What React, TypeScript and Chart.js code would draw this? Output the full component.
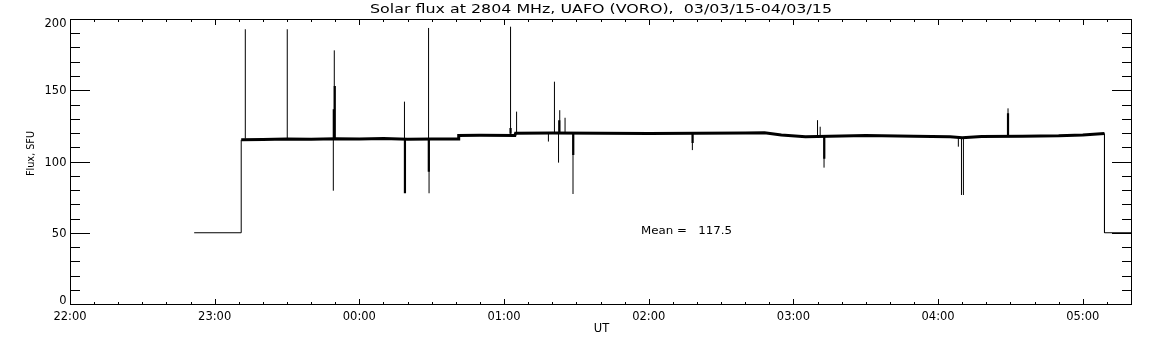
import React, { useEffect, useRef } from 'react';
import { Chart, registerables } from 'chart.js';

Chart.register(...registerables);

// ---- text ----
const TITLE = 'Solar flux at 2804 MHz, UAFO (VORO),  03/03/15-04/03/15';
const X_TITLE = 'UT';
const Y_TITLE = 'Flux, SFU';
const MEAN_LABEL = 'Mean =   117.5';

// ---- axes (x in minutes after 22:00 UT) ----
const X_MIN = 0;
const X_MAX = 440;
const Y_MIN = 0;
const Y_MAX = 200;
const X_TICK_VALUES = [0, 60, 120, 180, 240, 300, 360, 420];
const X_TICK_LABELS = ['22:00', '23:00', '00:00', '01:00', '02:00', '03:00', '04:00', '05:00'];
const Y_TICK_VALUES = [0, 50, 100, 150, 200];
const Y_TICK_LABELS = ['0', '50', '100', '150', '200'];
const X_MINOR_STEP = 10;
const Y_MINOR_STEP = 10;

// ---- data ----
// sky level before / after the solar tracking
const LEAD_T = [51.5, 71, 71];
const LEAD_V = [50, 50, 115.2];
const TAIL_T = [429, 429, 440];
const TAIL_V = [119.5, 50, 50];

// solar flux baseline (noisy band)
const BASE_T = [71, 80, 90, 100, 110, 120, 130, 140, 150, 161, 161.2, 170, 184.5, 184.8, 200, 220, 240, 260, 280, 288, 295, 305, 315, 330, 350, 365, 370, 378, 395, 410, 420, 429];
const BASE_V = [115.2, 115.5, 115.8, 115.6, 116.0, 115.8, 116.1, 115.7, 115.8, 115.8, 118.3, 118.5, 118.3, 119.9, 120.0, 119.8, 119.6, 119.8, 120.0, 120.1, 118.6, 117.4, 117.8, 118.2, 117.8, 117.3, 116.6, 117.6, 117.8, 118.0, 118.6, 119.6];

// thin spikes / dropouts: time, low end, high end
const SPIKE_T = [72.7, 90.1, 109.6, 109.2, 138.7, 148.7, 148.9, 182.7, 185.2, 198.4, 200.9, 202.6, 203.1, 205.3, 208.6, 258.1, 310.0, 311.1, 312.7, 368.4, 369.7, 370.5, 389.0];
const SPIKE_LO = [116, 116, 116, 79.5, 116, 116, 77.7, 119.5, 119.5, 114.0, 120, 99.2, 120, 120, 77.2, 108.0, 118, 118, 95.7, 110.4, 76.5, 76.5, 118];
const SPIKE_HI = [192.8, 192.8, 178.0, 116, 142.0, 193.7, 116, 194.6, 135.0, 119.5, 156.0, 120, 136.0, 130.7, 120, 119.8, 129.0, 124.4, 118, 116.5, 116.5, 116.5, 137.3];

// wider bursts
const WIDE_T = [109.8, 109.4, 138.9, 148.8, 202.9, 208.7, 258.2, 312.8, 389.0, 182.7];
const WIDE_LO = [116, 116, 77.7, 92.8, 119.5, 104.6, 113.0, 102.0, 118, 119.5];
const WIDE_HI = [153.0, 136.6, 116, 116, 129.0, 120, 119.8, 118, 133.8, 123.5];

// mean annotation anchor (data units)
const MEAN_AT_X = 236.8;
const MEAN_AT_Y = 52.0;

type Pt = { x: number; y: number | null };

function toPoints(t: number[], v: number[]): Pt[] {
  return t.map((x, i) => ({ x, y: v[i] }));
}

function toSegments(t: number[], lo: number[], hi: number[]): Pt[] {
  const out: Pt[] = [];
  t.forEach((x, i) => {
    out.push({ x, y: lo[i] });
    out.push({ x, y: hi[i] });
    out.push({ x, y: null });
  });
  return out;
}

const FONT = '"DejaVu Sans", sans-serif';

function drawText(
  ctx: CanvasRenderingContext2D,
  text: string,
  x: number,
  capCenterY: number,
  size: number,
  align: CanvasTextAlign,
  stretch = 1,
  targetW?: number
) {
  ctx.save();
  ctx.font = `${size}px ${FONT}`;
  const w = ctx.measureText(text).width;
  const sx = targetW ? targetW / w : stretch;
  ctx.translate(x, capCenterY + size * 0.365);
  ctx.scale(sx, 1);
  ctx.textAlign = align;
  ctx.textBaseline = 'alphabetic';
  ctx.fillStyle = '#000';
  ctx.fillText(text, 0, 0);
  ctx.restore();
}

const framePlugin = {
  id: 'idlFrame',
  afterDatasetsDraw(chart: any) {
    const ctx: CanvasRenderingContext2D = chart.ctx;
    const xs = chart.scales.x;
    const ys = chart.scales.y;
    const L = Math.round(xs.getPixelForValue(X_MIN));
    const R = Math.round(xs.getPixelForValue(X_MAX));
    const T = Math.round(ys.getPixelForValue(Y_MAX));
    const B = Math.round(ys.getPixelForValue(Y_MIN));
    ctx.save();
    ctx.strokeStyle = '#000';
    ctx.lineWidth = 1;
    ctx.beginPath();
    ctx.rect(L + 0.5, T + 0.5, R - L, B - T);
    // y ticks (inward, both sides)
    for (let v = Y_MIN; v <= Y_MAX; v += Y_MINOR_STEP) {
      const py = Math.round(ys.getPixelForValue(v)) + 0.5;
      const len = v % 50 === 0 ? 20 : 10;
      ctx.moveTo(L, py);
      ctx.lineTo(L + len, py);
      ctx.moveTo(R + 1, py);
      ctx.lineTo(R + 1 - len, py);
    }
    // x ticks (inward, top and bottom)
    for (let v = X_MIN; v <= X_MAX; v += X_MINOR_STEP) {
      const px = Math.round(xs.getPixelForValue(v)) + 0.5;
      const len = v % 60 === 0 ? 6 : 3;
      ctx.moveTo(px, B + 1);
      ctx.lineTo(px, B + 1 - len);
      ctx.moveTo(px, T);
      ctx.lineTo(px, T + len);
    }
    ctx.stroke();
    ctx.restore();

    // tick labels
    X_TICK_VALUES.forEach((v, i) => {
      drawText(ctx, X_TICK_LABELS[i], xs.getPixelForValue(v), B + 12, 11.5, 'center');
    });
    Y_TICK_VALUES.forEach((v, i) => {
      const py = Math.min(Math.max(ys.getPixelForValue(v), T + 4), B - 4);
      drawText(ctx, Y_TICK_LABELS[i], L - 3.5, py, 11.5, 'right');
    });

    // titles
    const cx = (L + R) / 2;
    drawText(ctx, TITLE, cx + 0.5, 9, 11.5, 'center', 1, 462);
    drawText(ctx, X_TITLE, cx + 1, 327.5, 11.5, 'center');
    ctx.save();
    ctx.translate(30, (T + B) / 2 - 8);
    ctx.rotate(-Math.PI / 2);
    drawText(ctx, Y_TITLE, 0, 0, 10, 'center', 1, 45);
    ctx.restore();

    // mean annotation
    drawText(ctx, MEAN_LABEL, xs.getPixelForValue(MEAN_AT_X), ys.getPixelForValue(MEAN_AT_Y), 10, 'left', 1, 91);
  },
};

export default function App() {
  const ref = useRef<HTMLCanvasElement | null>(null);

  useEffect(() => {
    document.body.style.margin = '0';
    const canvas = ref.current;
    if (!canvas) return;
    const line = (data: Pt[], w: number) => ({
      data,
      borderColor: '#000',
      backgroundColor: '#000',
      borderWidth: w,
      pointRadius: 0,
      tension: 0,
      fill: false,
      spanGaps: false,
      borderCapStyle: 'butt' as const,
      borderJoinStyle: 'miter' as const,
    });
    const chart = new Chart(canvas, {
      type: 'line',
      data: {
        datasets: [
          line(toPoints(LEAD_T, LEAD_V), 1),
          line(toPoints(TAIL_T, TAIL_V), 1),
          line(toPoints(BASE_T, BASE_V), 3),
          line(toSegments(SPIKE_T, SPIKE_LO, SPIKE_HI), 1),
          line(toSegments(WIDE_T, WIDE_LO, WIDE_HI), 2.2),
        ] as any,
      },
      options: {
        animation: false,
        responsive: false,
        devicePixelRatio: 1,
        layout: { padding: { left: 70, top: 19, right: 21, bottom: 41 } },
        plugins: { legend: { display: false }, tooltip: { enabled: false }, title: { display: false } },
        scales: {
          x: { type: 'linear', min: X_MIN, max: X_MAX, display: false },
          y: { type: 'linear', min: Y_MIN, max: Y_MAX, display: false },
        },
      },
      plugins: [framePlugin],
    });
    return () => chart.destroy();
  }, []);

  return (
    <div style={{ position: 'absolute', left: 0, top: 0, width: 1152, height: 345, background: '#fff' }}>
      <canvas ref={ref} width={1152} height={345} style={{ display: 'block' }} />
    </div>
  );
}
